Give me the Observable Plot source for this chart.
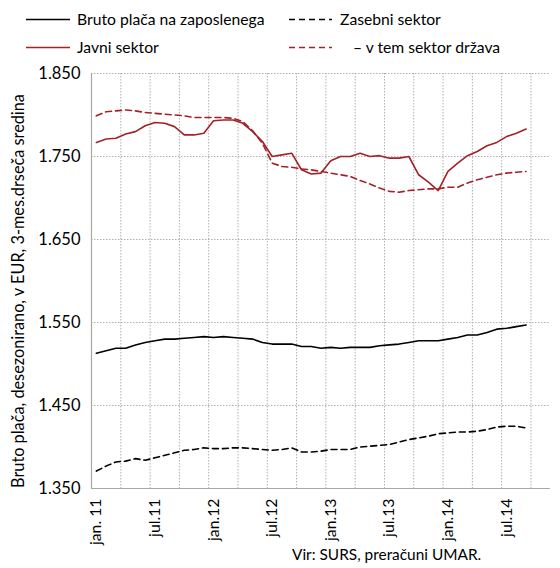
<!DOCTYPE html>
<html><head><meta charset="utf-8">
<script src="https://cdn.jsdelivr.net/npm/d3@7"></script>
<script src="https://cdn.jsdelivr.net/npm/@observablehq/plot@0.6"></script>
<style>
body{margin:0;background:#fff;font-family:Lato, "Liberation Sans", sans-serif;color:#000;}
#wrap{position:relative;width:560px;height:568px;overflow:hidden;}
#legend{position:relative;height:62px;font-size:15.7px;}
.li{position:absolute;display:flex;align-items:center;white-space:nowrap;}
.li svg{display:block;}
#chart svg{display:block;}
#caption{position:absolute;left:292px;top:545px;font-size:15.4px;white-space:nowrap;}
</style></head><body>
<div id="wrap">
  <div id="legend"></div>
  <div id="chart"></div>
  <div id="caption"></div>
</div>
<script>
// Monthly values, jan. 2011 – sep. 2014 (EUR)
const bruto = [1513,1516,1519,1519,1523,1526,1528,1530,1530,1531,1532,1533,1532,1533,1532,1531,1530,1526,1524,1524,1524,1521,1521,1519,1520,1519,1520,1520,1520,1522,1523,1524,1526,1528,1528,1528,1530,1532,1535,1535,1538,1542,1543,1545,1547];
const zasebni = [1371,1377,1382,1383,1386,1384,1387,1390,1393,1396,1397,1399,1398,1398,1399,1399,1398,1397,1396,1397,1399,1394,1394,1395,1397,1397,1397,1400,1401,1402,1403,1406,1409,1411,1413,1416,1417,1418,1418,1419,1421,1424,1425,1425,1423];
const javni = [1767,1771,1772,1777,1780,1787,1791,1790,1786,1776,1776,1778,1793,1794,1794,1790,1780,1768,1750,1752,1754,1734,1729,1730,1745,1750,1750,1754,1750,1751,1748,1748,1750,1728,1719,1709,1732,1742,1751,1756,1763,1767,1774,1778,1783];
const drzava = [1799,1804,1805,1806,1805,1803,1802,1801,1800,1799,1797,1797,1797,1797,1796,1792,1781,1766,1742,1738,1737,1735,1734,1732,1730,1728,1726,1721,1717,1712,1708,1707,1709,1710,1711,1711,1713,1713,1718,1722,1725,1728,1730,1731,1732];
const xLabels = ["jan. 11","jul.11","jan.12","jul.12","jan.13","jul.13","jan.14","jul.14"];
const yTicks = [1350,1450,1550,1650,1750,1850];
const seriesNames = ["Bruto plača na zaposlenega","Zasebni sektor","Javni sektor","– v tem sektor država"];
const yTitle = "Bruto plača, desezonirano, v EUR, 3-mes.drseča sredina";
const caption = "Vir: SURS, preračuni UMAR.";
const nCategories = 47; // jan.11 … nov.14 on the category axis

const RED = "#a3222a";
const styles = [
  {stroke:"#000", dash:null},
  {stroke:"#000", dash:"6,4"},
  {stroke:RED, dash:null},
  {stroke:RED, dash:"6,4"}
];
const seriesData = [bruto, zasebni, javni, drzava];

// legend
const legendPos = [[26,8],[289,8],[26,36],[289,36]];
const legendTextOffset = [51,51,51,64];
const legend = document.getElementById("legend");
seriesNames.forEach((name,k)=>{
  const d = document.createElement("div");
  d.className="li";
  d.style.left = legendPos[k][0]+"px";
  d.style.top = legendPos[k][1]+"px";
  d.style.height="22px";
  const s = styles[k];
  d.innerHTML = `<svg width="${legendTextOffset[k]}" height="22"><line x1="0" x2="${k%2? 43:44}" y1="11.5" y2="11.5" stroke="${s.stroke}" stroke-width="1.6" ${s.dash?`stroke-dasharray="${s.dash}"`:""}/></svg><span>${name}</span>`;
  legend.appendChild(d);
});
document.getElementById("caption").textContent = caption;

const gridX = d3.range(2.5, nCategories-1, 3);
const tickIdx = xLabels.map((_,k)=>k*6);

const chart = Plot.plot({
  width:560, height:486,
  marginLeft:91, marginRight:10, marginTop:11, marginBottom:60,
  style:{fontFamily:"Lato, 'Liberation Sans', sans-serif", fontSize:"16px", color:"#000", background:"transparent", overflow:"visible"},
  x:{domain:[-0.5, nCategories-0.5]},
  y:{domain:[1350,1850]},
  marks:[
    Plot.gridY(yTicks.slice(1), {stroke:"#b0b0b0", strokeOpacity:1, strokeDasharray:"1.5,1.5"}),
    Plot.gridX(gridX, {stroke:"#b0b0b0", strokeOpacity:1, strokeDasharray:"1.5,1.5"}),
    Plot.ruleX([-0.5], {stroke:"#a8a8a8", strokeWidth:1.2}),
    Plot.ruleY([1350], {stroke:"#a8a8a8", strokeWidth:1.2}),
    Plot.axisY({ticks:yTicks, tickSize:0, tickPadding:11,
      tickFormat:d=>d3.format(",")(d).replace(",","."), fontSize:16.5,
      label:null}),
    Plot.text([yTitle], {frameAnchor:"left", textAnchor:"middle", lineAnchor:"middle", dx:-73, dy:10, rotate:-90, fontSize:16.3, fill:"#000"}),
    Plot.axisX({ticks:tickIdx, tickSize:0, tickPadding:10, tickRotate:-90,
      tickFormat:d=>xLabels[d/6], label:null, fontSize:15.8}),
    ...seriesData.map((arr,k)=>Plot.line(arr, {
      x:(d,i)=>i, y:d=>d, stroke:styles[k].stroke, strokeWidth:1.6,
      strokeDasharray:styles[k].dash ?? undefined, curve:"linear"
    }))
  ]
});
document.getElementById("chart").appendChild(chart);
</script>
</body></html>
